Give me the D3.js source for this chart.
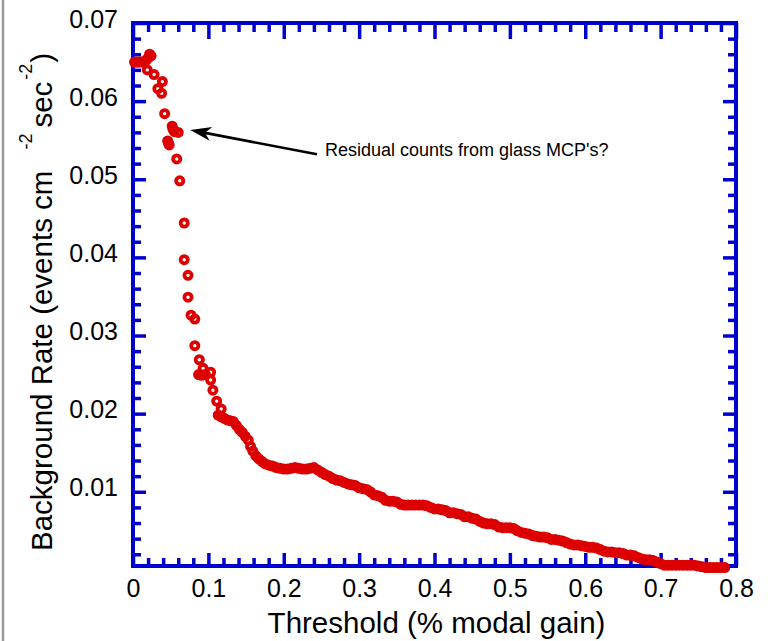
<!DOCTYPE html>
<html>
<head>
<meta charset="utf-8">
<script src="https://cdn.jsdelivr.net/npm/d3@7"></script>
<style>
  body { margin: 0; background: #fff; }
  svg { display: block; font-family: "Liberation Sans", Arial, Helvetica, sans-serif; }
</style>
</head>
<body>
<svg id="chart"></svg>
<script>
// threshold (% modal gain) and background rate (events cm^-2 sec^-2)
const thresholdPct = [
  0.002, 0.005, 0.008, 0.011, 0.014, 0.017, 0.020, 0.022, 0.024, 0.019,
  0.028, 0.039, 0.033, 0.038, 0.042, 0.052, 0.053, 0.055, 0.060, 0.046,
  0.047, 0.048, 0.058, 0.062, 0.068, 0.068, 0.073, 0.073, 0.077, 0.082,
  0.082, 0.088, 0.093, 0.087, 0.091, 0.096, 0.103, 0.103, 0.106, 0.111,
  0.117,
  0.113, 0.117, 0.121, 0.125, 0.129, 0.133, 0.137, 0.141, 0.145, 0.149,
  0.153, 0.156, 0.159, 0.163, 0.167, 0.171, 0.175, 0.180, 0.185, 0.190,
  0.195, 0.200, 0.205, 0.210, 0.215, 0.220, 0.225, 0.230, 0.235, 0.240,
  0.245, 0.250, 0.255, 0.260, 0.265, 0.270, 0.275, 0.280, 0.285, 0.290,
  0.295, 0.300, 0.305, 0.310, 0.315, 0.320, 0.325, 0.330, 0.335, 0.340,
  0.345, 0.350, 0.355, 0.360, 0.365, 0.370, 0.375, 0.380, 0.385, 0.390,
  0.395, 0.400, 0.405, 0.410, 0.415, 0.420, 0.425, 0.430, 0.435, 0.440,
  0.445, 0.450, 0.455, 0.460, 0.465, 0.470, 0.475, 0.480, 0.485, 0.490,
  0.495, 0.500, 0.505, 0.510, 0.515, 0.520, 0.525, 0.530, 0.535, 0.540,
  0.545, 0.550, 0.555, 0.560, 0.565, 0.570, 0.575, 0.580, 0.585, 0.590,
  0.595, 0.600, 0.605, 0.610, 0.615, 0.620, 0.625, 0.630, 0.635, 0.640,
  0.645, 0.650, 0.655, 0.660, 0.665, 0.670, 0.675, 0.680, 0.685, 0.690,
  0.695, 0.700, 0.705, 0.710, 0.715, 0.720, 0.725, 0.730, 0.735, 0.740,
  0.745, 0.750, 0.755, 0.760, 0.765, 0.770, 0.775, 0.780, 0.785
];
const bgRate = [
  0.0650, 0.0650, 0.0650, 0.0650, 0.0650, 0.0652, 0.0655, 0.0660, 0.0658, 0.0640,
  0.0634, 0.0625, 0.0616, 0.0610, 0.0584, 0.0568, 0.0564, 0.0561, 0.0560, 0.0549,
  0.0546, 0.0544, 0.0526, 0.0498, 0.0444, 0.0397, 0.0377, 0.0349, 0.0326, 0.0321,
  0.0287, 0.0269, 0.0258, 0.0250, 0.0249, 0.0250, 0.0253, 0.0243, 0.0230, 0.0216,
  0.0206,
  0.0198, 0.0196, 0.0194, 0.0192, 0.0191, 0.0190, 0.0185, 0.0180, 0.0176, 0.0171,
  0.0166, 0.0158, 0.0152, 0.0146, 0.0142, 0.0139, 0.0136, 0.0134, 0.0133, 0.0131,
  0.0130, 0.0129, 0.0129, 0.0130, 0.0131, 0.0130, 0.0129, 0.0129, 0.0130, 0.0131,
  0.0128, 0.0125, 0.0122, 0.0120, 0.0117, 0.0115, 0.0114, 0.0112, 0.0110, 0.0109,
  0.0108, 0.0105, 0.0104, 0.0103, 0.0100, 0.0096, 0.0095, 0.0093, 0.0089, 0.0088,
  0.0088, 0.0087, 0.0084, 0.0083, 0.0083, 0.0083, 0.0083, 0.0083, 0.0083, 0.0082,
  0.0080, 0.0078, 0.0078, 0.0077, 0.0076, 0.0073, 0.0073, 0.0072, 0.0071, 0.0068,
  0.0068, 0.0066, 0.0065, 0.0062, 0.0060, 0.0059, 0.0059, 0.0058, 0.0055, 0.0054,
  0.0054, 0.0054, 0.0053, 0.0050, 0.0048, 0.0047, 0.0046, 0.0044, 0.0043, 0.0042,
  0.0042, 0.0041, 0.0039, 0.0039, 0.0038, 0.0037, 0.0035, 0.0033, 0.0032, 0.0032,
  0.0031, 0.0030, 0.0029, 0.0029, 0.0028, 0.0026, 0.0024, 0.0023, 0.0023, 0.0022,
  0.0022, 0.0021, 0.0019, 0.0019, 0.0018, 0.0016, 0.0014, 0.0013, 0.0013, 0.0012,
  0.0010, 0.0008, 0.0006, 0.0006, 0.0006, 0.0006, 0.0006, 0.0006, 0.0006, 0.0006,
  0.0006, 0.0005, 0.0004, 0.0003, 0.0003, 0.0003, 0.0003, 0.0003, 0.0003
];

const xTicks = [0, 0.1, 0.2, 0.3, 0.4, 0.5, 0.6, 0.7, 0.8];
const yTicks = [0.01, 0.02, 0.03, 0.04, 0.05, 0.06, 0.07];
const xTitle = 'Threshold (% modal gain)';
const noteText = "Residual counts from glass MCP's?";
// arrow tip and tail, in data units
const noteTip = [0.076, 0.0563];
const noteTail = [0.244, 0.0532];

const W = 768, H = 641;
const margin = { top: 23, right: 32, bottom: 75, left: 133 };
const width = W - margin.left - margin.right;
const height = H - margin.top - margin.bottom;
const blue = '#0000cc';
const red = '#dd0000';

const svg = d3.select('#chart').attr('width', W).attr('height', H);

// grey edge line at far left of the picture
svg.append('line')
  .attr('x1', 3).attr('x2', 3).attr('y1', 0).attr('y2', H)
  .attr('stroke', '#9a9a9a').attr('stroke-width', 2.5);

const chart = svg.append('g')
  .attr('transform', `translate(${margin.left},${margin.top})`);

const x = d3.scaleLinear().domain([0, 0.8]).range([0, width]);
const y = d3.scaleLinear().domain([0.0005, 0.07]).range([height, 0]);

const xMinor = d3.range(1, 40).map(i => i * 0.02).filter((v, i) => (i + 1) % 5 !== 0);
const yMinor = d3.range(1, 35).map(i => i * 0.002).filter((v, i) => (i + 1) % 5 !== 0);

const fmtX = d => d === 0 ? '0' : d3.format('.1f')(d);

function styleAxis(g) {
  g.select('.domain').remove();
  g.selectAll('.tick line').attr('stroke', blue).attr('stroke-width', 3.5);
  g.selectAll('.tick text').attr('fill', '#000').style('font-size', '25px');
}

// bottom
chart.append('g').attr('transform', `translate(0,${height})`)
  .call(d3.axisBottom(x).tickValues(xTicks).tickSize(-13).tickPadding(13).tickFormat(fmtX))
  .call(styleAxis);
chart.append('g').attr('transform', `translate(0,${height})`)
  .call(d3.axisBottom(x).tickValues(xMinor).tickSize(-8).tickFormat(''))
  .call(styleAxis);
// top
chart.append('g')
  .call(d3.axisTop(x).tickValues(xTicks).tickSize(-16).tickFormat(''))
  .call(styleAxis);
chart.append('g')
  .call(d3.axisTop(x).tickValues(xMinor).tickSize(-9).tickFormat(''))
  .call(styleAxis);
// left
chart.append('g')
  .call(d3.axisLeft(y).tickValues(yTicks).tickSize(-13).tickPadding(15).tickFormat(d3.format('.2f')))
  .call(styleAxis)
  .selectAll('.tick text').attr('dy', '0.16em');
chart.append('g')
  .call(d3.axisLeft(y).tickValues(yMinor).tickSize(-8).tickFormat(''))
  .call(styleAxis);
// right
chart.append('g').attr('transform', `translate(${width},0)`)
  .call(d3.axisRight(y).tickValues(yTicks).tickSize(-13).tickFormat(''))
  .call(styleAxis);
chart.append('g').attr('transform', `translate(${width},0)`)
  .call(d3.axisRight(y).tickValues(yMinor).tickSize(-8).tickFormat(''))
  .call(styleAxis);

// frame
chart.append('rect')
  .attr('width', width).attr('height', height)
  .attr('fill', 'none').attr('stroke', blue).attr('stroke-width', 4);

// data points (open circles)
const pts = thresholdPct.map((t, i) => [t, bgRate[i]]);
chart.append('g').selectAll('circle')
  .data(pts)
  .enter().append('circle')
  .attr('cx', d => x(d[0]))
  .attr('cy', d => y(d[1]))
  .attr('r', 3.6)
  .attr('fill', 'none')
  .attr('stroke', red)
  .attr('stroke-width', 3.8);

// annotation arrow
const tip = [x(noteTip[0]), y(noteTip[1])];
const tail = [x(noteTail[0]), y(noteTail[1])];
const ang = Math.atan2(tail[1] - tip[1], tail[0] - tip[0]);
const hl = 21, hw = 7, back = 15;
const ca = Math.cos(ang), sa = Math.sin(ang);
const p1 = [tip[0] + hl * ca - hw * sa, tip[1] + hl * sa + hw * ca];
const p2 = [tip[0] + hl * ca + hw * sa, tip[1] + hl * sa - hw * ca];
const p3 = [tip[0] + back * ca, tip[1] + back * sa];
chart.append('line')
  .attr('x1', tail[0]).attr('y1', tail[1])
  .attr('x2', p3[0]).attr('y2', p3[1])
  .attr('stroke', '#000').attr('stroke-width', 2.6);
chart.append('path')
  .attr('d', `M${tip}L${p1}L${p3}L${p2}Z`)
  .attr('fill', '#000');
chart.append('text')
  .attr('x', tail[0] + 8).attr('y', tail[1] + 2)
  .style('font-size', '18px').attr('fill', '#000')
  .text(noteText);

// axis titles
svg.append('text')
  .attr('x', margin.left + width / 2 + 2).attr('y', 633)
  .attr('text-anchor', 'middle')
  .style('font-size', '29.5px').attr('fill', '#000')
  .text(xTitle);

const yt = svg.append('text')
  .attr('transform', 'translate(52,551) rotate(-90)')
  .style('font-size', '29.5px').attr('fill', '#000');
yt.append('tspan').text('Background Rate (events cm');
yt.append('tspan').attr('dx', 21).attr('dy', -20).style('font-size', '18px').text('-2');
yt.append('tspan').attr('dx', 6).attr('dy', 20).text('sec');
yt.append('tspan').attr('dx', 2).attr('dy', -20).style('font-size', '18px').text('-2');
yt.append('tspan').attr('dx', 1).attr('dy', 20).text(')');
</script>
</body>
</html>
